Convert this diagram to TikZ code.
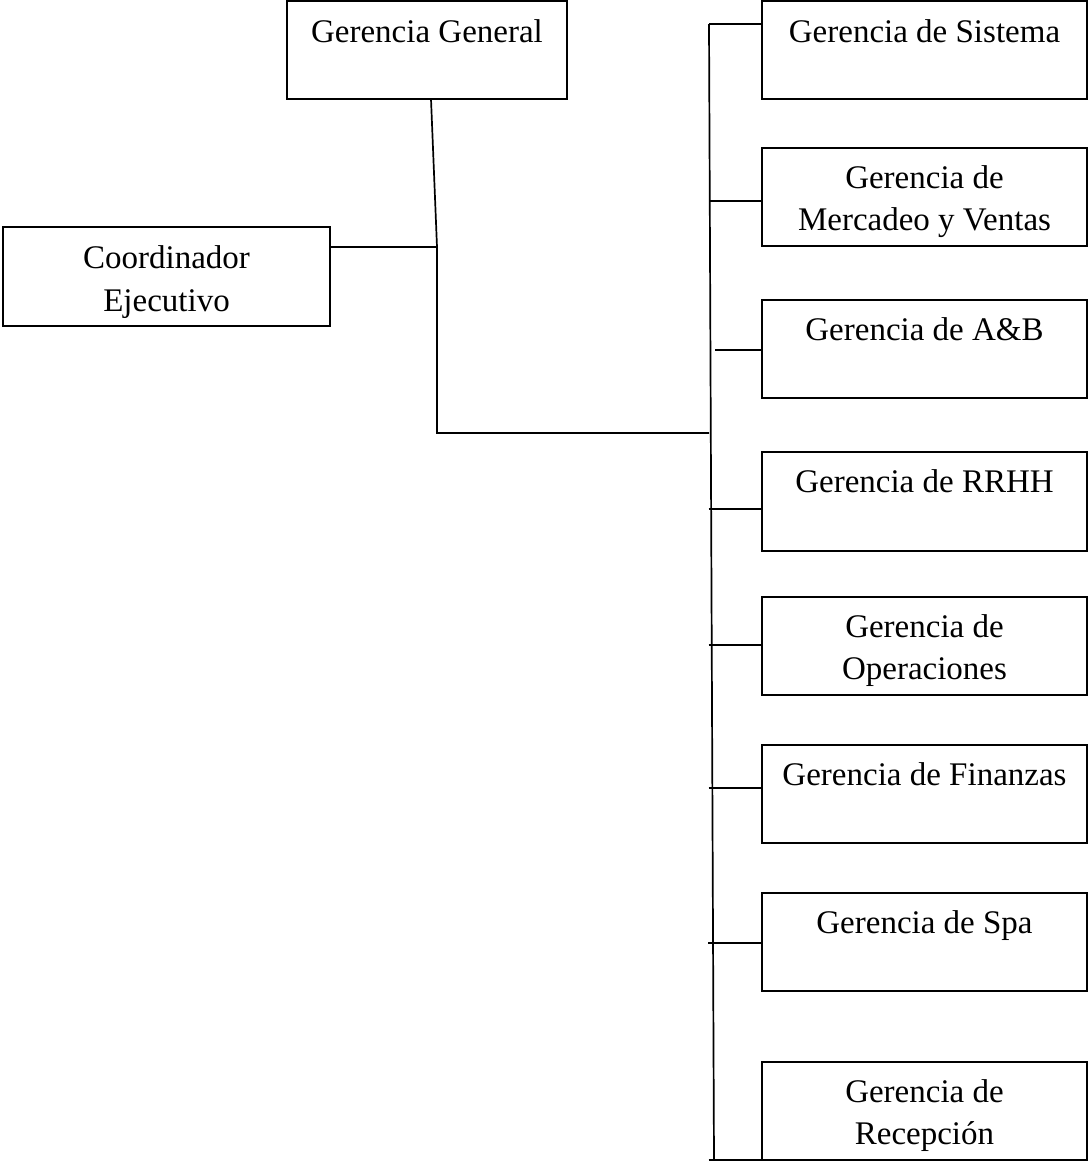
\documentclass[tikz,border=0pt]{standalone}
\usepackage{fontspec}
\setmainfont{Liberation Serif}
\begin{document}
\begin{tikzpicture}[x=1pt,y=-1pt,
  box/.style={draw, line width=2pt, inner sep=0pt, outer sep=0pt,
              minimum width=325pt, minimum height=98pt},
  lbl/.style={anchor=north, inner sep=0pt, align=center,
              font=\fontsize{33}{41.5}\selectfont},
  wire/.style={line width=1.7pt}]
\useasboundingbox (0,0) rectangle (1089,1163);

% top level boxes
\node[box, minimum width=280pt] (gg) at (427,50) {};
\node[lbl] (ggt) at ([yshift=-18.5pt]gg.north) {Gerencia General};
\node[box, minimum width=327pt, minimum height=99pt] (coo) at (166.5,276.5) {};
\node[lbl, font=\fontsize{33}{43}\selectfont] (coot) at ([yshift=-18.5pt]coo.north) {Coordinador\\Ejecutivo};

% department boxes
\node[box] (sis) at (924.5,50) {};
\node[lbl] (sist) at ([yshift=-18.5pt]sis.north) {Gerencia de Sistema};
\node[box] (mer) at (924.5,197) {};
\node[lbl] (mert) at ([yshift=-17.5pt]mer.north) {Gerencia de\\Mercadeo y Ventas};
\node[box] (ayb) at (924.5,349) {};
\node[lbl] (aybt) at ([yshift=-17.5pt]ayb.north) {Gerencia de A\&B};
\node[box, minimum height=99pt] (rrh) at (924.5,501.5) {};
\node[lbl] (rrht) at ([yshift=-17.5pt]rrh.north) {Gerencia de RRHH};
\node[box] (ope) at (924.5,646) {};
\node[lbl] (opet) at ([yshift=-17.5pt]ope.north) {Gerencia de\\Operaciones};
\node[box] (fin) at (924.5,794) {};
\node[lbl] (fint) at ([yshift=-17.5pt]fin.north) {Gerencia de Finanzas};
\node[box] (spa) at (924.5,942) {};
\node[lbl] (spat) at ([yshift=-17.5pt]spa.north) {Gerencia de Spa};
\node[box] (rec) at (924.5,1111) {};
\node[lbl] (rect) at ([yshift=-17.5pt]rec.north) {Gerencia de\\Recepción};

% left connectors
\coordinate (j1) at (437,247);
\coordinate (j2) at (437,433);
\coordinate (t0) at (709,433);
\draw[wire] (431,99) -- (j1) -- (j2) -- (t0);
\draw[wire] (coo.east |- j1) -- (j1);

% trunk and branches
\coordinate (ttop) at (709,24);
\coordinate (tbot) at (714,1160);
\draw[wire] (ttop) -- (tbot);
\coordinate (b1) at (709,24);
\coordinate (b2) at (709,201);
\coordinate (b3) at (715,350);
\coordinate (b4) at (708.5,509);
\coordinate (b5) at (708.5,645);
\coordinate (b6) at (708.5,788);
\coordinate (b7) at (708,943);
\coordinate (b8) at (708.5,1160);
\draw[wire] (b1) -- (b1 -| sis.west);
\draw[wire] (b2) -- (b2 -| mer.west);
\draw[wire] (b3) -- (b3 -| ayb.west);
\draw[wire] (b4) -- (b4 -| rrh.west);
\draw[wire] (b5) -- (b5 -| ope.west);
\draw[wire] (b6) -- (b6 -| fin.west);
\draw[wire] (b7) -- (b7 -| spa.west);
\draw[wire] (b8) -- (b8 -| rec.west);
\end{tikzpicture}
\end{document}
